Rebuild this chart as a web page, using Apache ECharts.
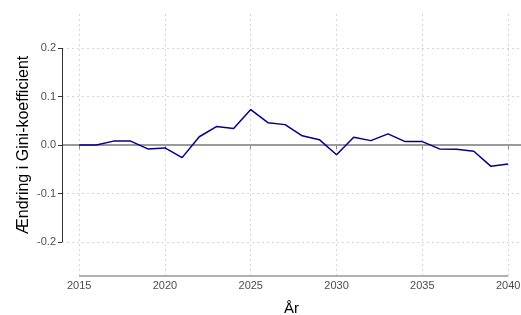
<!DOCTYPE html>
<html>
<head>
<meta charset="utf-8">
<script src="https://cdn.jsdelivr.net/npm/echarts@6/dist/echarts.min.js"></script>
<style>
  html, body { margin: 0; padding: 0; background: #fff; }
  #chart { width: 521px; height: 315px; }
</style>
</head>
<body>
<div id="chart"></div>
<script>
// years and change in Gini coefficient
const years = [2015, 2016, 2017, 2018, 2019, 2020, 2021, 2022, 2023, 2024, 2025, 2026, 2027,
  2028, 2029, 2030, 2031, 2032, 2033, 2034, 2035, 2036, 2037, 2038, 2039, 2040]
const giniChange = [0.000, 0.000, 0.008, 0.008, -0.008, -0.006, -0.026, 0.017, 0.038, 0.034, 0.073, 0.046, 0.042,
  0.019, 0.011, -0.020, 0.016, 0.009, 0.023, 0.007, 0.007, -0.008, -0.009, -0.013, -0.044, -0.039]
const xTicks = [2015, 2020, 2025, 2030, 2035, 2040]
const yTicks = [-0.2, -0.1, 0, 0.1, 0.2]

const chart = echarts.init(document.getElementById('chart'))

const gridLine = { show: true, lineStyle: { color: '#d6d6d6', type: [2, 3], width: 1 } }

var option = {
  animation: false,
  textStyle: { fontFamily: 'Liberation Sans, Arial, sans-serif' },
  grid: { left: 62, right: 0, top: 14, bottom: 39, containLabel: false, outerBoundsMode: 'none' },
  xAxis: {
    type: 'value',
    min: 2014,
    max: 2040.75,
    name: 'År',
    nameLocation: 'middle',
    nameGap: 25,
    nameMoveOverlap: false,
    nameTextStyle: { fontSize: 15, color: '#000' },
    axisLine: { show: false },
    axisTick: { show: true, length: 4, customValues: xTicks, lineStyle: { color: '#888' } },
    axisLabel: { customValues: xTicks, color: '#4d4d4d', fontSize: 11, margin: 4, formatter: v => String(v) },
    splitLine: gridLine
  },
  yAxis: {
    type: 'value',
    min: -0.27,
    max: 0.27,
    name: 'Ændring i Gini-koefficient',
    nameLocation: 'middle',
    nameGap: 30,
    nameMoveOverlap: false,
    nameTextStyle: { fontSize: 16, color: '#000' },
    axisLine: { show: false },
    axisTick: { show: true, length: 4, customValues: yTicks, lineStyle: { color: '#333' } },
    axisLabel: { customValues: yTicks, color: '#4d4d4d', fontSize: 11, margin: 6, formatter: v => v.toFixed(1) },
    splitLine: gridLine
  },
  series: [{
    type: 'line',
    data: years.map((y, i) => [y, giniChange[i]]),
    symbol: 'none',
    lineStyle: { color: '#00008b', width: 1.5 },
    z: 5,
    markLine: {
      silent: true,
      symbol: 'none',
      label: { show: false },
      data: [
        { yAxis: 0, lineStyle: { color: '#9a9a9a', width: 2, type: 'solid' } },
        [{ coord: [2014, 0.2] }, { coord: [2014, -0.2], lineStyle: { color: '#333', width: 1, type: 'solid' } }],
        [{ coord: [2015, -0.27] }, { coord: [2040, -0.27], lineStyle: { color: '#999', width: 1.5, type: 'solid' } }]
      ]
    }
  }]
}

chart.setOption(option)
</script>
</body>
</html>
